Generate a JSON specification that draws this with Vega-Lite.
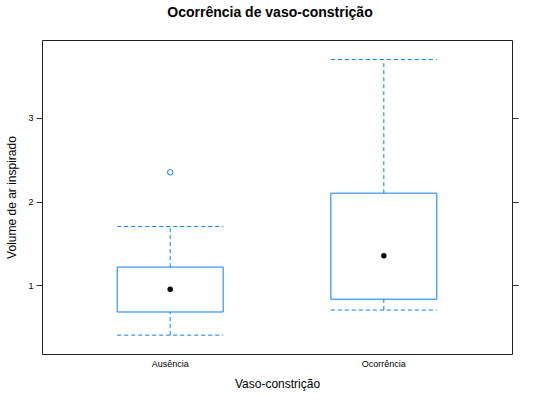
{
  "$schema": "https://vega.github.io/schema/vega-lite/v6.json",
  "autosize": "none",
  "width": 470,
  "height": 314,
  "padding": {"left": 42, "top": 40, "right": 28, "bottom": 46},
  "config": {
    "font": "Liberation Sans",
    "view": {"stroke": "#222", "strokeWidth": 1},
    "axis": {"grid": false, "domain": false}
  },
  "title": {
    "text": "Ocorrência de vaso-constrição",
    "fontSize": 14,
    "fontWeight": "bold",
    "font": "Liberation Sans",
    "color": "#000",
    "anchor": "middle",
    "offset": 20,
    "dx": -7
  },
  "datasets": {
    "boxes": [
      {"grupo": "Ausência", "lo": 0.40, "q1": 0.677, "med": 0.95, "q3": 1.215, "hi": 1.70},
      {"grupo": "Ocorrência", "lo": 0.70, "q1": 0.83, "med": 1.35, "q3": 2.10, "hi": 3.70}
    ],
    "outliers": [
      {"grupo": "Ausência", "valor": 2.35}
    ]
  },
  "data": {"name": "boxes"},
  "resolve": {"axis": {"y": "independent"}},
  "encoding": {
    "x": {
      "field": "grupo",
      "type": "nominal",
      "sort": ["Ausência", "Ocorrência"],
      "scale": {"paddingInner": 0.504, "paddingOuter": 0.352},
      "axis": {
        "title": "Vaso-constrição",
        "labelAngle": 0,
        "labelFontSize": 9,
        "labelColor": "#000",
        "ticks": false,
        "labelPadding": 5,
        "titleFontSize": 12,
        "titleFontWeight": "normal",
        "titleColor": "#000",
        "titlePadding": 10
      }
    }
  },
  "layer": [
    {
      "mark": {"type": "rule", "stroke": "#0080ff", "strokeDash": [4, 3], "strokeWidth": 1},
      "encoding": {
        "y": {"field": "q3", "type": "quantitative", "axis": null},
        "y2": {"field": "hi"}
      }
    },
    {
      "mark": {"type": "rule", "stroke": "#0080ff", "strokeDash": [4, 3], "strokeWidth": 1},
      "encoding": {
        "y": {"field": "lo", "type": "quantitative", "axis": null},
        "y2": {"field": "q1"}
      }
    },
    {
      "mark": {"type": "rule", "stroke": "#0080ff", "strokeDash": [4, 3], "strokeWidth": 1},
      "encoding": {
        "x": {"field": "grupo", "type": "nominal", "sort": ["Ausência", "Ocorrência"], "bandPosition": 0},
        "x2": {"field": "grupo", "bandPosition": 1},
        "y": {"field": "hi", "type": "quantitative", "axis": null}
      }
    },
    {
      "mark": {"type": "rule", "stroke": "#0080ff", "strokeDash": [4, 3], "strokeWidth": 1},
      "encoding": {
        "x": {"field": "grupo", "type": "nominal", "sort": ["Ausência", "Ocorrência"], "bandPosition": 0},
        "x2": {"field": "grupo", "bandPosition": 1},
        "y": {"field": "lo", "type": "quantitative", "axis": null}
      }
    },
    {
      "mark": {"type": "bar", "fill": "white", "stroke": "#0080ff", "strokeWidth": 1},
      "encoding": {
        "y": {
          "field": "q1",
          "type": "quantitative",
          "scale": {"domain": [0.174, 3.934], "nice": false, "zero": false},
          "axis": {
            "title": "Volume de ar inspirado",
            "values": [1, 2, 3],
            "labelFontSize": 9,
            "labelColor": "#000",
            "tickSize": 6,
            "tickColor": "#333",
            "labelPadding": 3,
            "titleFontSize": 12,
            "titleFontWeight": "normal",
            "titleColor": "#000",
            "titlePadding": 9
          }
        },
        "y2": {"field": "q3"}
      }
    },
    {
      "mark": {"type": "point", "filled": true, "color": "#000", "size": 30, "opacity": 1},
      "encoding": {
        "y": {
          "field": "med",
          "type": "quantitative",
          "axis": {
            "orient": "right",
            "title": null,
            "labels": false,
            "values": [1, 2, 3],
            "tickSize": 6,
            "tickColor": "#333"
          }
        }
      }
    },
    {
      "data": {"name": "outliers"},
      "mark": {"type": "point", "filled": false, "color": "#0080ff", "size": 30, "strokeWidth": 1, "opacity": 1},
      "encoding": {
        "y": {"field": "valor", "type": "quantitative", "axis": null}
      }
    }
  ]
}
